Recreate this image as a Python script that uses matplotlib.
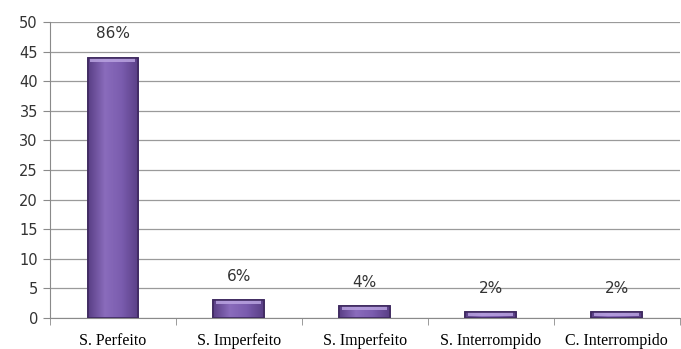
import numpy as np
import matplotlib.pyplot as plt
from matplotlib.colors import LinearSegmentedColormap

# categories and counts
categorias = ["S. Perfeito", "S. Imperfeito", "S. Imperfeito", "S. Interrompido", "C. Interrompido"]
valores = [44, 3, 2, 1, 1]
rotulos = ["86%", "6%", "4%", "2%", "2%"]

fig = plt.figure(figsize=(6.81, 3.49), dpi=100)
ax = fig.add_axes([0.073, 0.089, 0.925, 0.848])

x = np.arange(len(categorias))
largura = 0.4

# horizontal gradient for the bar faces
grad = LinearSegmentedColormap.from_list("roxo", ["#5a3f86", "#8a6cbc", "#7a5cae", "#5a3f86"])
faixa = np.linspace(0, 1, 64).reshape(1, -1)

barras = ax.bar(x, valores, width=largura, color="#7a5cae", edgecolor="#3f2a60", linewidth=1.2, zorder=3)
for b in barras:
    x0, y0 = b.get_x(), b.get_y()
    w, h = b.get_width(), b.get_height()
    img = ax.imshow(faixa, cmap=grad, aspect="auto", extent=(x0, x0 + w, y0, y0 + h), zorder=3.5)
    img.set_clip_path(b)
    # light bevel on top of each bar
    ax.fill_between([x0 + w * 0.05, x0 + w * 0.95], y0 + h - 0.7, y0 + h,
                    color="#b9a3e0", alpha=0.85, zorder=4, linewidth=0)
    ax.add_patch(plt.Rectangle((x0, y0), w, h, fill=False, edgecolor="#3f2a60", linewidth=1.2, zorder=5))

for xi, v, r in zip(x, valores, rotulos):
    ax.annotate(r, (xi, v), xytext=(0, 17), textcoords="offset points", ha="center", va="center",
                fontsize=11, color="#333333", family="DejaVu Sans")

ax.set_xlim(-0.5, len(categorias) - 0.5)
ax.set_ylim(0, 50)
ax.set_yticks(range(0, 51, 5))
ax.yaxis.grid(True, color="#9a9a9a", linewidth=0.9, zorder=0)
ax.set_axisbelow(True)

ax.set_xticks(x)
ax.set_xticklabels(categorias, family="Liberation Serif", fontsize=11.5)
ax.set_xticks(np.arange(-0.5, len(categorias)), minor=True)
ax.tick_params(axis="x", which="major", length=0, pad=11)
ax.tick_params(axis="x", which="minor", length=5, color="#8a8a8a")
ax.tick_params(axis="y", length=5, color="#8a8a8a", labelsize=10.5, labelcolor="#333333")

for s in ["top", "right"]:
    ax.spines[s].set_visible(False)
for s in ["left", "bottom"]:
    ax.spines[s].set_color("#8a8a8a")

plt.savefig("out.png", dpi=100)
